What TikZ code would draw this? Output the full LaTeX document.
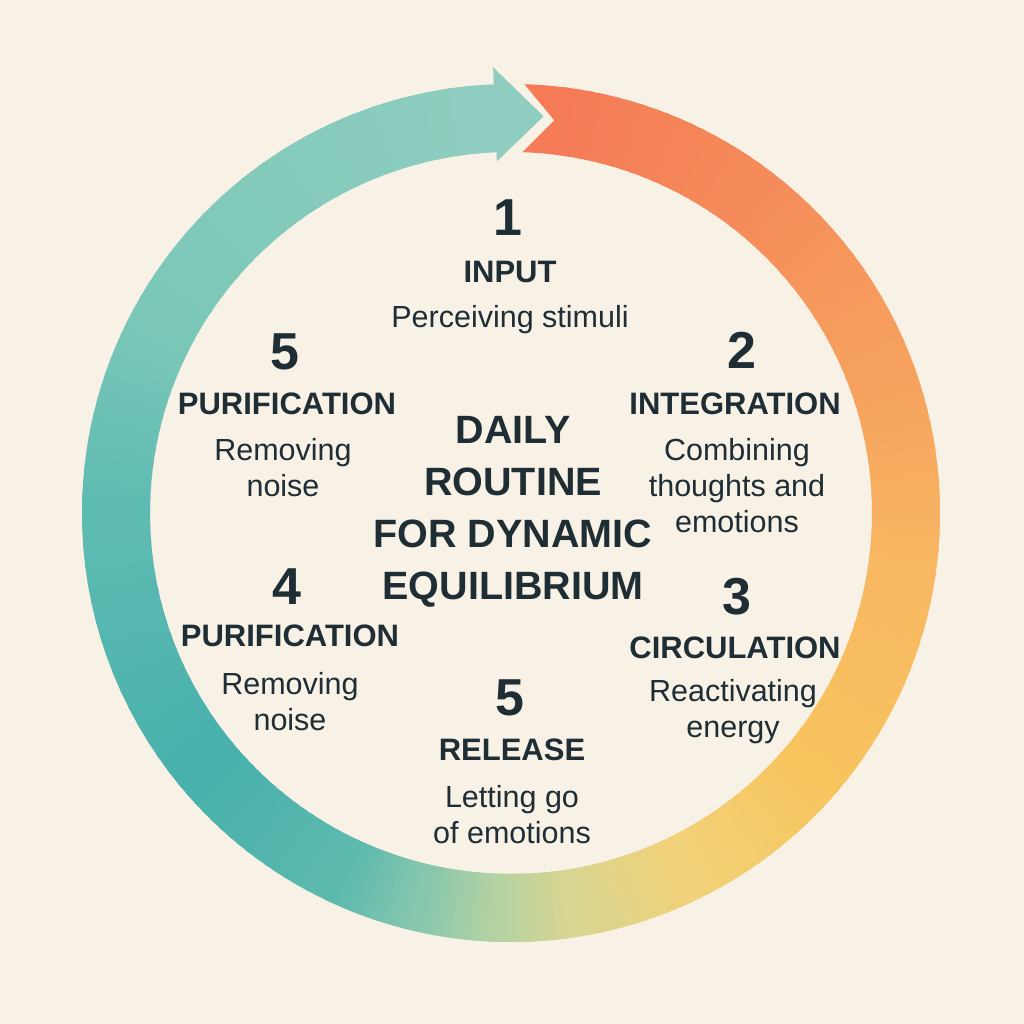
\documentclass[tikz,border=0pt]{standalone}
\usepackage{fontspec}
\setmainfont{Liberation Sans}
\usepackage{xcolor}
\usetikzlibrary{calc}
\definecolor{Paper} {HTML}{F8F1E6}
\definecolor{Ink}   {HTML}{1F2D35}
\definecolor{RingA} {HTML}{F47B56}
\definecolor{RingB} {HTML}{F58A5A}
\definecolor{RingC} {HTML}{F6A25E}
\definecolor{RingD} {HTML}{F8B862}
\definecolor{RingE} {HTML}{F8C45E}
\definecolor{RingF} {HTML}{F1D27A}
\definecolor{RingG} {HTML}{D6D592}
\definecolor{RingH} {HTML}{B5D2A2}
\definecolor{RingI} {HTML}{86C7AE}
\definecolor{RingJ} {HTML}{5CB9AE}
\definecolor{RingK} {HTML}{48B1AC}
\definecolor{RingL} {HTML}{5EBBB2}
\definecolor{RingM} {HTML}{7CC8B8}
\definecolor{RingN} {HTML}{8ECDBF}
\def\rin{361}
\def\rout{429}
\begin{document}
\begin{tikzpicture}[
  x=1pt, y=1pt,
  every node/.style={align=center, text=Ink, inner sep=0pt},
  numlbl/.style  = {font=\bfseries\fontsize{52}{60}\selectfont},
  headlbl/.style = {font=\bfseries\fontsize{31}{36}\selectfont},
  desclbl/.style = {font=\fontsize{30.5}{36}\selectfont},
  titlelbl/.style= {font=\bfseries\fontsize{39.5}{52}\selectfont},
]
\useasboundingbox (0,0) rectangle (1024,1024);
\fill[Paper] (0,0) rectangle (1024,1024);

% gradient ring, drawn clockwise from the notched tail
\coordinate (o) at (511,511);
\begin{scope}[shift={(o)}]
  \fill[RingA] (88.2:\rout pt) -- (83.7:395pt) -- (88.2:\rin pt)
        arc[start angle=88.2, end angle=82, radius=\rin pt]
        -- (82:\rout pt)
        arc[start angle=82, end angle=88.2, radius=\rout pt] -- cycle;
  \foreach \aa/\ab/\ca/\cb in {83/55/RingA/RingB, 55/20/RingB/RingC,
      20/-10/RingC/RingD, -10/-40/RingD/RingE, -40/-65/RingE/RingF,
      -65/-82/RingF/RingG, -82/-92/RingG/RingH, -92/-103/RingH/RingI,
      -103/-115/RingI/RingJ, -115/-140/RingJ/RingK, -140/-180/RingK/RingL,
      -180/-210/RingL/RingM, -210/-265/RingM/RingN}{
    \foreach \k in {0,...,15}{
      \pgfmathsetmacro\s{\aa+(\ab-\aa)*\k/16}
      \pgfmathsetmacro\e{max(\aa+(\ab-\aa)*(\k+1)/16-0.8,-265)}
      \pgfmathtruncatemacro\p{100*\k/15}
      \fill[\cb!\p!\ca] (\s:\rout pt)
          arc[start angle=\s, end angle=\e, radius=\rout pt]
          -- (\e:\rin pt)
          arc[start angle=\e, end angle=\s, radius=\rin pt] -- cycle;
    }
  }
  % last piece of the shaft with its arrowhead
  \fill[RingN] (95.3:\rout pt)
        arc[start angle=95.3, end angle=92.3, radius=\rout pt]
        -- (92.3:446pt) -- (85.3:398pt) -- (92.3:352pt) -- (92.3:\rin pt)
        arc[start angle=92.3, end angle=95.3, radius=\rin pt] -- cycle;
\end{scope}

% stages
\node[numlbl]  (n1)   at (508,806) {1};
\node[headlbl] (h1)   at (510,752) {INPUT};
\node[desclbl] (d1)   at (510,704) {Perceiving stimuli};

\node[numlbl]  (n2)   at (742,674) {2};
\node[headlbl] (h2)   at (735,620) {INTEGRATION};
\node[desclbl] (d2)   at (737,538) {Combining\\thoughts and\\emotions};

\node[numlbl]  (n3)   at (737,427) {3};
\node[headlbl] (h3)   at (735,376) {CIRCULATION};
\node[desclbl] (d3)   at (733,312) {Reactivating\\energy};

\node[numlbl]  (n5b)  at (510,326) {5};
\node[headlbl] (h5b)  at (512,274) {RELEASE};
\node[desclbl] (d5b)  at (512,209) {Letting go\\of emotions};

\node[numlbl]  (n4)   at (287,437) {4};
\node[headlbl] (h4)   at (290,388) {PURIFICATION};
\node[desclbl] (d4)   at (290,322) {Removing\\noise};

\node[numlbl]  (n5a)  at (285,672) {5};
\node[headlbl] (h5a)  at (287,620) {PURIFICATION};
\node[desclbl] (d5a)  at (283,556) {Removing\\noise};

% centre title
\node[titlelbl] (title) at (513,512) {DAILY\\ROUTINE\\FOR DYNAMIC\\EQUILIBRIUM};
\end{tikzpicture}
\end{document}
